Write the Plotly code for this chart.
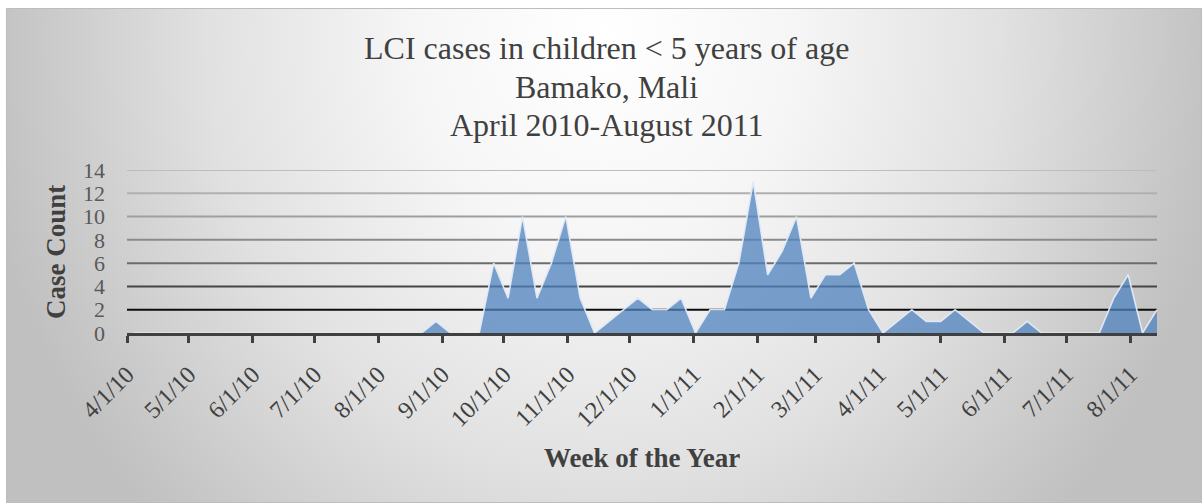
import base64
import pandas as pd
import plotly.graph_objects as go

# ---------------- data ----------------
first_week = "2010-04-04"          # weekly points (Sundays)
n_weeks = 72
case_counts = [
    0, 0, 0, 0, 0, 0, 0, 0, 0, 0,
    0, 0, 0, 0, 0, 0, 0, 0, 0, 0,
    0, 1, 0, 0, 0, 6, 3, 10, 3, 6,
    10, 3, 0, 1, 2, 3, 2, 2, 3, 0,
    2, 2, 6, 13, 5, 7, 10, 3, 5, 5,
    6, 2, 0, 1, 2, 1, 1, 2, 1, 0,
    0, 0, 1, 0, 0, 0, 0, 0, 3, 5,
    0, 2,
]
tick_dates = ["2010-04-01", "2010-05-01", "2010-06-01", "2010-07-01", "2010-08-01",
              "2010-09-01", "2010-10-01", "2010-11-01", "2010-12-01", "2011-01-01",
              "2011-02-01", "2011-03-01", "2011-04-01", "2011-05-01", "2011-06-01",
              "2011-07-01", "2011-08-01"]
tick_labels = ["4/1/10", "5/1/10", "6/1/10", "7/1/10", "8/1/10", "9/1/10", "10/1/10",
               "11/1/10", "12/1/10", "1/1/11", "2/1/11", "3/1/11", "4/1/11", "5/1/11",
               "6/1/11", "7/1/11", "8/1/11"]
y_ticks = [0, 2, 4, 6, 8, 10, 12, 14]
x_range = ["2010-04-01", "2011-08-14"]
title_lines = ["LCI cases in children &lt; 5 years of age", "Bamako, Mali", "April 2010-August 2011"]

weeks = pd.date_range(first_week, periods=n_weeks, freq="7D")

# ---------------- layout geometry ----------------
W, H = 1202, 503
ML, MR, MT, MB = 127, 45, 170, 170
PW, PH = W - ML - MR, H - MT - MB


def px(x):
    return (x - ML) / PW


def py(y):
    return (H - MB - y) / PH


SERIF = "Liberation Serif, Times New Roman, serif"

fig = go.Figure()

fig.add_trace(go.Scatter(
    x=weeks, y=case_counts, mode="lines", fill="tozeroy",
    fillcolor="rgba(79,129,189,0.75)",
    line=dict(color="rgba(225,234,246,0.95)", width=1.6),
    hoverinfo="x+y", showlegend=False,
))

# background gradient (svg data uri)
svg = """<svg xmlns="http://www.w3.org/2000/svg" width="1196" height="495" viewBox="0 0 1196 495" preserveAspectRatio="none">
<defs><radialGradient id="g" gradientUnits="userSpaceOnUse" cx="598" cy="30" r="630"
 gradientTransform="translate(598 30) scale(1 1.1) translate(-598 -30)">
<stop offset="0" stop-color="#ffffff"/><stop offset="0.3" stop-color="#f6f6f6"/>
<stop offset="0.63" stop-color="#e1e1e1"/><stop offset="0.95" stop-color="#c4c4c4"/>
<stop offset="1" stop-color="#c0c0c0"/></radialGradient></defs>
<rect x="0" y="0" width="1196" height="495" fill="url(#g)"/>
<rect x="0.5" y="0.5" width="1195" height="494" fill="none" stroke="#bdbdbd" stroke-width="1"/>
</svg>"""
uri = "data:image/svg+xml;base64," + base64.b64encode(svg.encode()).decode()
fig.add_layout_image(dict(
    source=uri, xref="paper", yref="paper", x=px(6), y=py(8),
    sizex=1196 / PW, sizey=495 / PH, xanchor="left", yanchor="top",
    sizing="stretch", layer="below",
))

# gridlines with graded colours
grid_colors = {2: "#0d0d0d", 4: "#454545", 6: "#6c6c6c", 8: "#8a8a8a",
               10: "#9f9f9f", 12: "#b0b0b0", 14: "#bdbdbd"}
for v in y_ticks[1:]:
    fig.add_shape(type="line", xref="paper", x0=0, x1=1, yref="y", y0=v, y1=v,
                  line=dict(color=grid_colors[v], width=2), layer="below")

# titles
title_y = [48, 87, 125]
for txt, yy in zip(title_lines, title_y):
    fig.add_annotation(text=txt, xref="paper", yref="paper", x=px(606), y=py(yy),
                       xanchor="center", yanchor="middle", showarrow=False,
                       font=dict(family=SERIF, size=32, color="#404040"))

fig.add_annotation(text="<b>Week of the Year</b>", xref="paper", yref="paper",
                   x=px(642), y=py(458), xanchor="center", yanchor="middle",
                   showarrow=False, font=dict(family=SERIF, size=27, color="#404040"))
fig.add_annotation(text="<b>Case Count</b>", xref="paper", yref="paper",
                   x=px(56), y=py(252), xanchor="center", yanchor="middle",
                   textangle=-90, showarrow=False,
                   font=dict(family=SERIF, size=27, color="#404040"))

fig.update_layout(
    width=W, height=H,
    margin=dict(l=ML, r=MR, t=MT, b=MB, pad=0),
    paper_bgcolor="white", plot_bgcolor="rgba(0,0,0,0)",
    xaxis=dict(
        type="date", range=x_range, tickmode="array", tickvals=tick_dates,
        ticktext=tick_labels, tickangle=-45, showgrid=False, zeroline=False,
        showline=True, linecolor="#404040", linewidth=3,
        ticks="outside", ticklen=7, tickwidth=3, tickcolor="#404040",
        ticklabelstandoff=8,
        tickfont=dict(family=SERIF, size=24, color="#404040"),
    ),
    yaxis=dict(
        range=[0, 14], tickmode="array", tickvals=y_ticks, showgrid=False,
        zeroline=False, showline=False, ticks="",
        ticklabelstandoff=21,
        tickfont=dict(family=SERIF, size=22, color="#595959"),
    ),
)

fig.write_html("out.html")
